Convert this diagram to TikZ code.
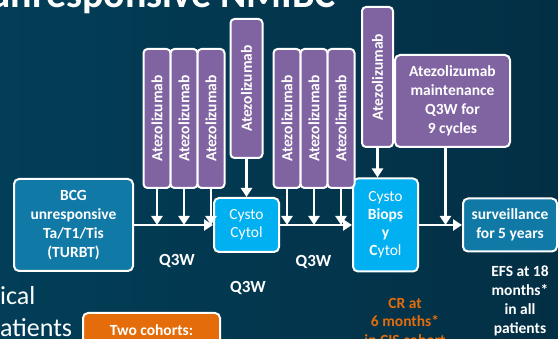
\documentclass[tikz,border=0pt]{standalone}
\usepackage{fontspec}
\setmainfont{Carlito}
\usetikzlibrary{arrows.meta, positioning}

\definecolor{bgLeft}{RGB}{2, 62, 88}
\definecolor{bgRight}{RGB}{3, 47, 68}
\definecolor{atePurple}{RGB}{128, 100, 162}
\definecolor{cystoCyan}{RGB}{0, 176, 240}
\definecolor{stageBlue}{RGB}{17, 121, 166}
\definecolor{crOrange}{RGB}{228, 108, 10}

\begin{document}
\begin{tikzpicture}[
    x=1pt, y=-1pt,
    boxfont/.style={font=\bfseries\fontsize{15.5}{19}\selectfont},
    ate/.style={rectangle, rounded corners=4pt, draw=white, line width=2pt, fill=atePurple,
                minimum width=27pt, minimum height=139pt, inner sep=0pt, text=white, boxfont},
    stagebox/.style={rectangle, rounded corners=5pt, draw=white, line width=2pt, fill=stageBlue,
                minimum width=94pt, minimum height=53pt, inner sep=2pt, align=center, text=white, boxfont},
    cysto/.style={rectangle, rounded corners=5pt, draw=white, line width=2pt, fill=cystoCyan,
                minimum width=65pt, minimum height=54pt, inner sep=2pt, align=center, text=white,
                font=\fontsize{15.5}{18}\selectfont},
    lbl/.style={align=center, text=white, inner sep=0pt, boxfont},
    qlbl/.style={text=white, inner sep=0pt, font=\bfseries\fontsize{17}{20}\selectfont},
    arr/.style={-{Triangle[length=9pt, width=11pt]}, white, line width=2.3pt}
  ]
  \useasboundingbox (0,0) rectangle (558,339);
  \clip (0,0) rectangle (558,339);
  \fill[left color=bgLeft, right color=bgRight] (0,0) rectangle (558,339);

  % title and side text, cut by the slide crop
  \node[text=white, inner sep=0pt, anchor=base east, font=\bfseries\fontsize{40}{44}\selectfont] (ttl) at (336,8) {unresponsive NMIBC};
  \node[text=white, inner sep=0pt, anchor=base west, font=\fontsize{26}{30}\selectfont] (side1) at (0,305) {ical};
  \node[text=white, inner sep=0pt, anchor=base west, font=\fontsize{26}{30}\selectfont] (side2) at (0,337) {atients};

  % main row
  \node[stagebox, minimum width=119pt, minimum height=92pt] (bcg) at (73.5,225) {BCG\\unresponsive\\Ta/T1/Tis\\(TURBT)};
  \node[cysto] (cc) at (246.5,225) {Cysto\\Cytol};
  \node[cysto, minimum height=93pt, font=\fontsize{15.5}{18}\selectfont] (cb) at (385.5,225) {Cysto\\\textbf{Biops}\\\textbf{y}\\\textbf{C}ytol};
  \node[stagebox] (surv) at (510,225) {surveillance\\for 5 years};

  % induction cycles
  \node[ate] (a1) at (157,118.5) {\rotatebox{90}{Atezolizumab}};
  \node[ate, right=-2pt of a1] (a2) {\rotatebox{90}{Atezolizumab}};
  \node[ate, right=-2pt of a2] (a3) {\rotatebox{90}{Atezolizumab}};
  \node[ate, minimum width=32pt, above=38pt of cc] (a7) {\rotatebox{90}{Atezolizumab}};
  \node[ate] (a4) at (287,118.5) {\rotatebox{90}{Atezolizumab}};
  \node[ate, right=-2pt of a4] (a5) {\rotatebox{90}{Atezolizumab}};
  \node[ate, right=-2pt of a5] (a6) {\rotatebox{90}{Atezolizumab}};
  \node[ate, minimum width=31pt, minimum height=140pt] (a8) at (377.5,77) {\rotatebox{90}{Atezolizumab}};
  \node[ate, rounded corners=5pt, minimum width=115pt, minimum height=92pt, align=center]
    (maint) at (452.5,101) {Atezolizumab\\maintenance\\Q3W for\\9 cycles};

  \draw[arr] (bcg) -- (cc);
  \draw[arr] (cc) -- (cb);
  \draw[arr] (cb) -- (surv);
  \foreach \a in {a1,a2,a3,a4,a5,a6}
    \draw[arr] (\a.south) -- (\a.south |- bcg.east);
  \draw[arr] (a7.south) -- (a7.south |- cc.north);
  \draw[arr] (a8.south) -- (a8.south |- cb.north);
  \draw[arr] ([xshift=-7pt]maint.south) -- ([xshift=-7pt]maint.south |- surv.west);

  % labels
  \node[qlbl] (q1) at (177,261) {Q3W};
  \node[qlbl] (q2) at (248,288) {Q3W};
  \node[qlbl] (q3) at (313.5,261.5) {Q3W};
  \node[lbl] (efs) at (520,301) {EFS at 18\\months*\\in all\\patients};
  \node[lbl, text=crOrange, font=\bfseries\fontsize{15.5}{18.5}\selectfont] (cr) at (405,321.5) {CR at\\6 months*\\in CIS cohort};

  % cohort box, cut at the bottom
  \node[rectangle, rounded corners=5pt, draw=white, line width=2pt, fill=crOrange, text=white, boxfont,
        minimum width=137pt, anchor=north, inner ysep=5pt, text height=18pt, text depth=20pt]
    (coh) at (151.5,312) {Two cohorts:};
\end{tikzpicture}
\end{document}
